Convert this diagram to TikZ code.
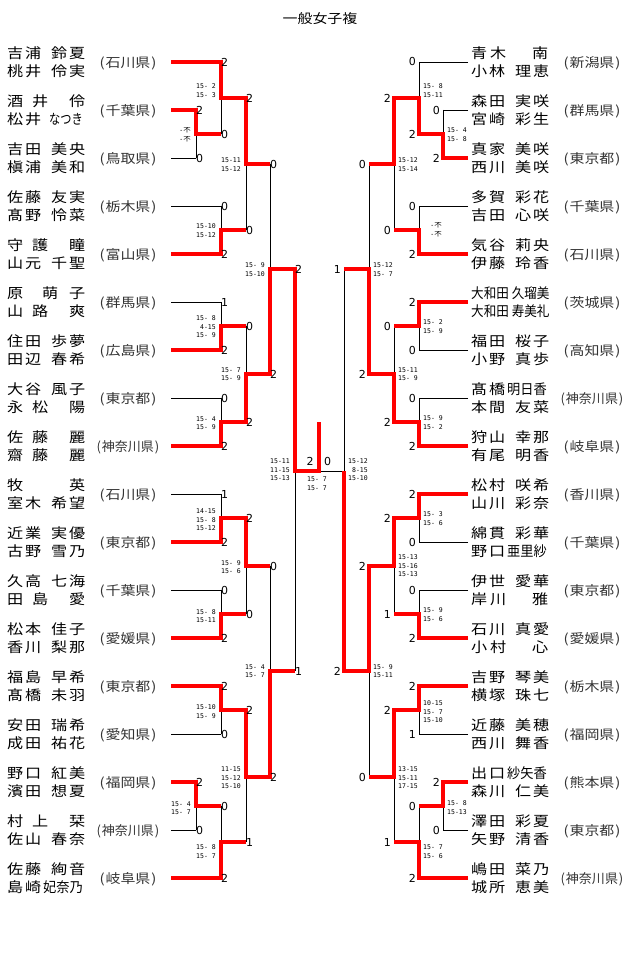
\documentclass[tikz,border=0pt]{standalone}
\usepackage{fontspec}
\usepackage{graphicx}
\newfontfamily\jpfont[FakeStretch=1.15]{Noto Sans CJK JP}
\newfontfamily\scorefont{DejaVu Sans}
\newfontfamily\gamefont{DejaVu Sans Mono}

\newcommand\nF[4]{\makebox[18pt][l]{#1}\makebox[26pt][l]{#2}\makebox[18pt][l]{#3}#4}
\newcommand\nT[3]{\makebox[25pt][l]{#1}\makebox[37pt][l]{#2}#3}
\newcommand\nR[3]{\makebox[19pt][l]{#1}\makebox[42pt][l]{#2}#3}
\newcommand\nO[3]{\makebox[35pt][l]{#1}\makebox[27pt][l]{#2}#3}
\newcommand\nW[2]{\makebox[62pt][l]{#1}#2}
\newcommand\nK[3]{\makebox[18pt][l]{#1}\makebox[18pt][l]{#2}\scalebox{.82}[1]{#3}}
\newcommand\pr[1]{(\kern1pt#1\kern1pt)}
\newcommand\prk[1]{\scalebox{.87}[1]{\pr{#1}}}
\newcommand\fusen{-{\jpfont 不}}

\tikzset{
  ln/.style={line width=.9pt},
  win/.style={line width=3.5pt, red},
  nm/.style={anchor=base west, inner sep=0pt, font=\jpfont\fontsize{14}{18}\selectfont},
  pf/.style={anchor=base, inner sep=0pt, text=black!80, font=\jpfont\fontsize{13}{15}\selectfont},
  scl/.style={anchor=west, inner sep=0pt, font=\scorefont\fontsize{11}{13}\selectfont},
  scr/.style={scl, anchor=east, xshift=-3pt},
  gml/.style={anchor=east, inner sep=0pt, align=right, font=\gamefont\fontsize{6.5}{8.5}\selectfont},
  gmr/.style={gml, anchor=west},
}

\begin{document}
\begin{tikzpicture}[x=1pt,y=-1pt]
\useasboundingbox (0,0) rectangle (640,957);

\node[pf, text=black] (title) at (320,24) {一般女子複};

\foreach \y/\na/\nb/\pfx [count=\i] in {
  62/{\nF 吉浦鈴夏}/{\nF 桃井伶実}/{\pr{石川県}},
  110/{\nT 酒井伶}/{\makebox[18pt][l]{松}\makebox[24pt][l]{井}\scalebox{.7}[1]{なつき}}/{\pr{千葉県}},
  158/{\nF 吉田美央}/{\nF 槇浦美和}/{\pr{鳥取県}},
  206/{\nF 佐藤友実}/{\nF 髙野怜菜}/{\pr{栃木県}},
  254/{\nT 守護瞳}/{\nF 山元千聖}/{\pr{富山県}},
  302/{\nO 原萌子}/{\nT 山路爽}/{\pr{群馬県}},
  350/{\nF 住田歩夢}/{\nF 田辺春希}/{\pr{広島県}},
  398/{\nF 大谷風子}/{\nT 永松陽}/{\pr{東京都}},
  446/{\nT 佐藤麗}/{\nT 齋藤麗}/{\prk{神奈川県}},
  494/{\nW 牧英}/{\nF 室木希望}/{\pr{石川県}},
  542/{\nF 近業実優}/{\nF 古野雪乃}/{\pr{東京都}},
  590/{\nF 久高七海}/{\nT 田島愛}/{\pr{千葉県}},
  638/{\nF 松本佳子}/{\nF 香川梨那}/{\pr{愛媛県}},
  686/{\nF 福島早希}/{\nF 髙橋未羽}/{\pr{東京都}},
  734/{\nF 安田瑞希}/{\nF 成田祐花}/{\pr{愛知県}},
  782/{\nF 野口紅美}/{\nF 濱田想夏}/{\pr{福岡県}},
  830/{\nT 村上栞}/{\nF 佐山春奈}/{\prk{神奈川県}},
  878/{\nF 佐藤絢音}/{\nK 島崎{妃奈乃}}/{\pr{岐阜県}}}
{
  \node[nm] (la\i) at (7,\y-3.7) {\na};
  \node[nm] (lb\i) at (7,\y+14.8) {\nb};
  \node[pf] (lp\i) at (128,\y+5.4) {\pfx};
}

\foreach \y/\na/\nb/\pfx [count=\i] in {
  62/{\nR 青木南}/{\nF 小林理恵}/{\pr{新潟県}},
  110/{\nF 森田実咲}/{\nF 宮崎彩生}/{\pr{群馬県}},
  158/{\nF 真家美咲}/{\nF 西川美咲}/{\pr{東京都}},
  206/{\nF 多賀彩花}/{\nF 吉田心咲}/{\pr{千葉県}},
  254/{\nF 気谷莉央}/{\nF 伊藤玲香}/{\pr{石川県}},
  302/{\scalebox{.78}[1]{大和田}\hspace{3pt}\scalebox{.78}[1]{久瑠美}}/{\scalebox{.78}[1]{大和田}\hspace{3pt}\scalebox{.78}[1]{寿美礼}}/{\pr{茨城県}},
  350/{\nF 福田桜子}/{\nF 小野真歩}/{\pr{高知県}},
  398/{\nK 髙橋{明日香}}/{\nF 本間友菜}/{\prk{神奈川県}},
  446/{\nF 狩山幸那}/{\nF 有尾明香}/{\pr{岐阜県}},
  494/{\nF 松村咲希}/{\nF 山川彩奈}/{\pr{香川県}},
  542/{\nF 綿貫彩華}/{\nK 野口{亜里紗}}/{\pr{千葉県}},
  590/{\nF 伊世愛華}/{\nR 岸川雅}/{\pr{東京都}},
  638/{\nF 石川真愛}/{\nR 小村心}/{\pr{愛媛県}},
  686/{\nF 吉野琴美}/{\nF 横塚珠七}/{\pr{栃木県}},
  734/{\nF 近藤美穂}/{\nF 西川舞香}/{\pr{福岡県}},
  782/{\nK 出口{紗矢香}}/{\nF 森川仁美}/{\pr{熊本県}},
  830/{\nF 澤田彩夏}/{\nF 矢野清香}/{\pr{東京都}},
  878/{\nF 嶋田菜乃}/{\nF 城所恵美}/{\prk{神奈川県}}}
{
  \node[nm] (ra\i) at (471,\y-3.7) {\na};
  \node[nm] (rb\i) at (471,\y+14.8) {\nb};
  \node[pf] (rp\i) at (592,\y+5.4) {\pfx};
}

\foreach \y/\xa/\xb in {62/221/419, 110/196/443, 158/196/443, 206/221/419,
  254/221/419, 302/221/419, 350/221/419, 398/221/419, 446/221/419,
  494/221/419, 542/221/419, 590/221/419, 638/221/419, 686/221/419,
  734/221/419, 782/196/443, 830/196/443, 878/221/419}
  \draw[ln] (171,\y) -- (\xa,\y) (468,\y) -- (\xb,\y);

\foreach \xa/\xb/\ya/\yb in {196/443/110/158, 221/419/62/134, 221/419/206/254,
  246/394/98/230, 221/419/302/350, 221/419/398/446, 246/394/326/422,
  270/369/164/374, 221/419/494/542, 221/419/590/638, 246/394/518/614,
  221/419/686/734, 196/443/782/830, 221/419/806/878, 246/394/710/842,
  270/369/566/777, 295/344/269/671}
  \draw[ln] (\xa,\ya) -- (\xa,\yb) (\xb,\ya) -- (\xb,\yb);
\draw[ln] (295,471) -- (344,471);

\draw[win] (171,62) -- (221,62) -- (221,98) -- (246,98) -- (246,164) -- (270,164);
\draw[win] (171,110) -- (196,110) -- (196,134) -- (221,134);
\draw[win] (171,254) -- (221,254) -- (221,230) -- (246,230);
\draw[win] (171,350) -- (221,350) -- (221,326) -- (246,326);
\draw[win] (171,446) -- (221,446) -- (221,422) -- (246,422) -- (246,374) -- (270,374)
  -- (270,269) -- (295,269) -- (295,471) -- (319,471) -- (319,422);
\draw[win] (171,542) -- (221,542) -- (221,518) -- (246,518) -- (246,566) -- (270,566);
\draw[win] (171,638) -- (221,638) -- (221,614) -- (246,614);
\draw[win] (171,686) -- (221,686) -- (221,710) -- (246,710) -- (246,777) -- (270,777)
  -- (270,671) -- (295,671);
\draw[win] (171,782) -- (196,782) -- (196,806) -- (221,806);
\draw[win] (171,878) -- (221,878) -- (221,842) -- (246,842);

\draw[win] (468,158) -- (443,158) -- (443,134) -- (419,134) -- (419,98) -- (394,98)
  -- (394,164) -- (369,164);
\draw[win] (468,254) -- (419,254) -- (419,230) -- (394,230);
\draw[win] (468,302) -- (419,302) -- (419,326) -- (394,326);
\draw[win] (468,446) -- (419,446) -- (419,422) -- (394,422) -- (394,374) -- (369,374)
  -- (369,269) -- (344,269);
\draw[win] (468,494) -- (419,494) -- (419,518) -- (394,518) -- (394,566) -- (369,566)
  -- (369,671) -- (344,671) -- (344,471);
\draw[win] (468,638) -- (419,638) -- (419,614) -- (394,614);
\draw[win] (468,686) -- (419,686) -- (419,710) -- (394,710) -- (394,777) -- (369,777);
\draw[win] (468,782) -- (443,782) -- (443,806) -- (419,806);
\draw[win] (468,878) -- (419,878) -- (419,842) -- (394,842);

\foreach \x/\y/\s [count=\i] in {221/62/2, 196/110/2, 196/158/0, 221/134/0,
  246/98/2, 221/206/0, 221/254/2, 246/230/0, 270/164/0, 221/302/1, 221/350/2,
  246/326/0, 221/398/0, 221/446/2, 246/422/2, 270/374/2, 295/269/2, 221/494/1,
  221/542/2, 246/518/2, 221/590/0, 221/638/2, 246/614/0, 270/566/0, 221/686/2,
  221/734/0, 246/710/2, 196/782/2, 196/830/0, 221/806/0, 221/878/2, 246/842/1,
  270/777/2, 295/671/1}
  \node[scl] (sl\i) at (\x,\y) {\s};

\foreach \x/\y/\s [count=\i] in {419/62/0, 443/110/0, 443/158/2, 419/134/2,
  394/98/2, 419/206/0, 419/254/2, 394/230/0, 369/164/0, 419/302/2, 419/350/0,
  394/326/0, 419/398/0, 419/446/2, 394/422/2, 369/374/2, 344/269/1, 419/494/2,
  419/542/0, 394/518/2, 419/590/0, 419/638/2, 394/614/1, 369/566/2, 419/686/2,
  419/734/1, 394/710/2, 443/782/2, 443/830/0, 419/806/0, 419/878/2, 394/842/1,
  369/777/0, 344/671/2}
  \node[scr] (sr\i) at (\x,\y) {\s};

\node[scl, anchor=center] (sfl) at (310,461) {2};
\node[scl, anchor=center] (sfr) at (327.5,461) {0};

\foreach \x/\y/\t [count=\i] in {191/135/{\fusen\\\fusen},
  216/90.5/{15- 2\\15- 3}, 216/230.5/{15-10\\15-12}, 241/164.5/{15-11\\15-12},
  265/269.5/{15- 9\\15-10}, 216/327/{15- 8\\~4-15\\15- 9},
  216/423/{15- 4\\15- 9}, 241/374/{15- 7\\15- 9},
  290/470/{15-11\\11-15\\15-13}, 216/520/{14-15\\15- 8\\15-12},
  241/567/{15- 9\\15- 6}, 216/616/{15- 8\\15-11}, 265/671/{15- 4\\15- 7},
  216/711.5/{15-10\\15- 9}, 241/778/{11-15\\15-12\\15-10},
  191/808/{15- 4\\15- 7}, 216/851.5/{15- 8\\15- 7}}
  \node[gml] (gl\i) at (\x,\y) {\t};

\foreach \x/\y/\t [count=\i] in {447/134.5/{15- 4\\15- 8},
  423/90.5/{15- 8\\15-11}, 398/164.5/{15-12\\15-14}, 373/269.5/{15-12\\15- 7},
  423/326.5/{15- 2\\15- 9}, 423/422.5/{15- 9\\15- 2}, 398/374/{15-11\\15- 9},
  348/470/{15-12\\~8-15\\15-10}, 423/518.5/{15- 3\\15- 6},
  423/614.5/{15- 9\\15- 6}, 398/566/{15-13\\15-16\\15-13},
  373/671/{15- 9\\15-11}, 423/712/{10-15\\15- 7\\15-10},
  398/778/{13-15\\15-11\\17-15}, 447/807.5/{15- 8\\15-13},
  423/851.5/{15- 7\\15- 6}}
  \node[gmr] (gr\i) at (\x,\y) {\t};
\node[gml] (grk) at (442,230) {\fusen\\\fusen};
\node[gmr] (gfin) at (307,483.5) {15- 7\\15- 7};
\end{tikzpicture}
\end{document}
